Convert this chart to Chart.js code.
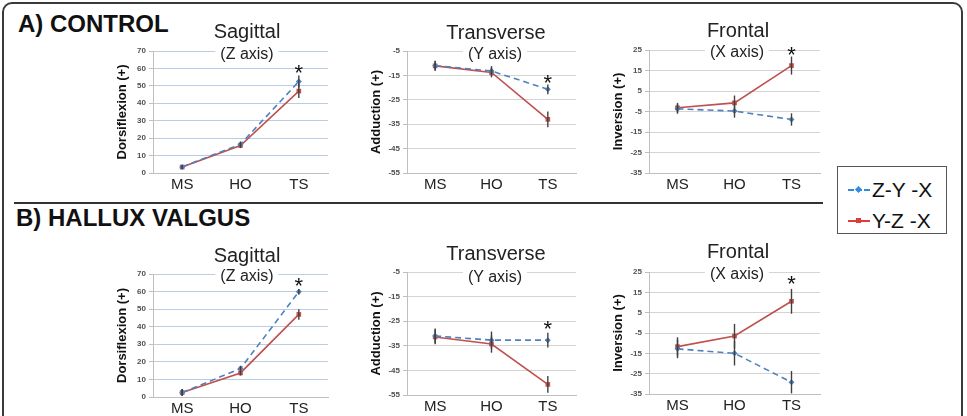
<!DOCTYPE html>
<html>
<head>
<meta charset="utf-8">
<script src="https://cdn.jsdelivr.net/npm/chart.js@4.4.1/dist/chart.umd.min.js"></script>
<style>
  html, body { margin: 0; padding: 0; background: #fff; }
  #page { position: relative; width: 967px; height: 416px; overflow: hidden; font-family: 'Liberation Sans', Arial, sans-serif; }
  #frame { position: absolute; left: 2px; top: 2px; width: 957px; height: 440px; border: 2px solid #3a3a3a; border-radius: 10px; }
  #divider { position: absolute; left: 14px; top: 202px; width: 809px; height: 0; border-top: 2px solid #333; }
  .section { position: absolute; font-weight: bold; font-size: 24px; color: #111; white-space: nowrap; line-height: 1; }
  .cv { position: absolute; }
  .ttl { position: absolute; transform: translateX(-50%); white-space: nowrap; color: #222; z-index: 2; line-height: 1; }
  .ttl.main { font-size: 20px; }
  .ttl.sub { font-size: 16px; background: #fff; padding: 0 5px; }
  #legend { position: absolute; left: 837px; top: 166px; width: 108px; height: 66px; border: 1px solid #555; background: #fff; }
  .lrow { position: absolute; left: 10px; font-size: 21px; color: #111; line-height: 1; white-space: nowrap; }
  .sample { display: inline-block; position: relative; width: 22px; height: 0; vertical-align: middle; margin-right: 2px; top: -1px; }
  .sample.blue { border-top: 2px dashed #2f8ae0; }
  .sample.red { border-top: 2px solid #e03a3a; }
  .sample i { position: absolute; left: 8px; top: -4px; width: 5px; height: 5px; }
  .sample.blue i { background: #2f8ae0; transform: rotate(45deg); }
  .sample.red i { background: #e03a3a; }
</style>
</head>
<body>
<div id="page">
  <div id="frame"></div>
  <div id="divider"></div>
  <div class="section" style="left:18px; top:12px;">A) CONTROL</div>
  <div class="section" style="left:16px; top:206px;">B) HALLUX VALGUS</div>
  <div id="legend">
    <div class="lrow" style="top:12px;"><span class="sample blue"><i></i></span>Z-Y -X</div>
    <div class="lrow" style="top:43px;"><span class="sample red"><i></i></span>Y-Z -X</div>
  </div>
</div>
<script>
// categories
var phases = ['MS', 'HO', 'TS'];
var seriesNames = ['Z-Y -X', 'Y-Z -X'];

// y-axis ranges (min, max, step)
var sagRange = [0, 70, 10];
var traRange = [-55, -5, 10];
var froRange = [-35, 25, 10];

// A) CONTROL
var ctrlSagZYX = [3.5, 16.5, 52.5];
var ctrlSagYZX = [3.4, 15.8, 47];
var ctrlSagErrZYX = [1, 1.5, 3.5];
var ctrlSagErrYZX = [1, 1.5, 4];
var ctrlSagStar = 60;

var ctrlTraZYX = [-11, -13.2, -20.7];
var ctrlTraYZX = [-11.1, -13.8, -33];
var ctrlTraErrZYX = [2, 2, 2];
var ctrlTraErrYZX = [2, 2, 3.2];
var ctrlTraStar = -16;

var ctrlFroZYX = [-3.7, -4.8, -8.9];
var ctrlFroYZX = [-3.2, -0.8, 17.4];
var ctrlFroErrZYX = [2.4, 3.2, 3];
var ctrlFroErrYZX = [2.4, 3.6, 4.4];
var ctrlFroStar = 25;

// B) HALLUX VALGUS
var hvSagZYX = [2.5, 16.2, 59.9];
var hvSagYZX = [2.5, 13.7, 47];
var hvSagErrZYX = [2, 1.5, 1.6];
var hvSagErrYZX = [2, 1.5, 3];
var hvSagStar = 66;

var hvTraZYX = [-31, -32.7, -32.7];
var hvTraYZX = [-31.4, -34.3, -50.7];
var hvTraErrZYX = [3, 3.5, 3];
var hvTraErrYZX = [3, 3.5, 3.4];
var hvTraStar = -26;

var hvFroZYX = [-12.8, -15, -29.2];
var hvFroYZX = [-11.7, -6.5, 10.6];
var hvFroErrZYX = [4.6, 6, 5.5];
var hvFroErrYZX = [4.6, 6, 6.1];
var hvFroStar = 21.6;

var AXIS_W = 38, PAD_TOP = 20, XAXIS_H = 22;

var errorBars = {
    id: 'errorBars',
    afterDatasetsDraw: function (chart) {
        var ctx = chart.ctx, x = chart.scales.x, y = chart.scales.y;
        ctx.save();
        ctx.strokeStyle = '#404040';
        ctx.lineWidth = 1.4;
        chart.data.datasets.forEach(function (ds) {
            if (!ds.errors) return;
            ds.data.forEach(function (v, i) {
                var px = x.getPixelForValue(i);
                ctx.beginPath();
                ctx.moveTo(px, y.getPixelForValue(v - ds.errors[i]));
                ctx.lineTo(px, y.getPixelForValue(v + ds.errors[i]));
                ctx.stroke();
            });
        });
        // asterisk above TS
        var star = chart.options.plugins.errorBars.star;
        if (star !== undefined) {
            ctx.fillStyle = '#111';
            ctx.font = '22px "Liberation Sans", Arial, sans-serif';
            ctx.textAlign = 'center';
            ctx.textBaseline = 'alphabetic';
            ctx.fillText('*', x.getPixelForValue(2), y.getPixelForValue(star) + 12);
        }
        ctx.restore();
    }
};

function makeChart(left, top, plotW, plotH, range, gridColor, yTitle, zyx, yzx, errZ, errY, star) {
    var canvas = document.createElement('canvas');
    var w = AXIS_W + plotW + 2, h = PAD_TOP + plotH + XAXIS_H;
    canvas.width = w; canvas.height = h;
    canvas.className = 'cv';
    canvas.style.left = (left - AXIS_W) + 'px';
    canvas.style.top = (top - PAD_TOP) + 'px';
    canvas.style.width = w + 'px';
    canvas.style.height = h + 'px';
    document.getElementById('page').appendChild(canvas);

    return new Chart(canvas.getContext('2d'), {
        type: 'line',
        data: {
            labels: phases,
            datasets: [
                {
                    label: seriesNames[0],
                    data: zyx,
                    errors: errZ,
                    borderColor: '#4f81bd',
                    backgroundColor: '#4f81bd',
                    borderWidth: 1.6,
                    borderDash: [6, 4],
                    pointStyle: 'rectRot',
                    pointRadius: 3,
                    pointBorderWidth: 0,
                    tension: 0
                },
                {
                    label: seriesNames[1],
                    data: yzx,
                    errors: errY,
                    borderColor: '#c0504d',
                    backgroundColor: '#c0504d',
                    borderWidth: 1.6,
                    pointStyle: 'rect',
                    pointRadius: 3.3,
                    pointBorderWidth: 0,
                    tension: 0
                }
            ]
        },
        options: {
            responsive: false,
            animation: false,
            layout: { padding: { top: PAD_TOP, right: 2, left: 0, bottom: 0 } },
            plugins: {
                legend: { display: false },
                tooltip: { enabled: false },
                errorBars: { star: star }
            },
            scales: {
                x: {
                    offset: true,
                    afterFit: function (s) { s.height = XAXIS_H; },
                    grid: { display: false, drawTicks: false },
                    border: { color: '#bfbfbf', width: 1 },
                    ticks: {
                        color: '#222',
                        padding: 3,
                        font: { family: '"Liberation Sans Narrow", "Liberation Sans", Arial, sans-serif', size: 15 }
                    }
                },
                y: {
                    min: range[0],
                    max: range[1],
                    afterFit: function (s) { s.width = AXIS_W; },
                    grid: { color: gridColor, lineWidth: 1, tickLength: 4, tickColor: '#bfbfbf' },
                    border: { color: '#bfbfbf', width: 1 },
                    ticks: {
                        stepSize: range[2],
                        color: '#505050',
                        padding: 3,
                        font: { family: '"Liberation Sans", Arial, sans-serif', size: 8, weight: 'bold' }
                    },
                    title: {
                        display: true,
                        text: yTitle,
                        color: '#111',
                        padding: 0,
                        font: { family: '"Liberation Sans Narrow", "Liberation Sans", Arial, sans-serif', size: 13, weight: 'bold' }
                    }
                }
            }
        },
        plugins: [errorBars]
    });
}

function addTitle(cx, top, text, cls) {
    var d = document.createElement('div');
    d.className = 'ttl ' + cls;
    d.style.left = cx + 'px';
    d.style.top = top + 'px';
    d.textContent = text;
    document.getElementById('page').appendChild(d);
}

var sagGrid = '#b9cde5', otherGrid = '#d4d4d4';

// row A
makeChart(153, 51, 177, 122, sagRange, sagGrid, 'Dorsiflexion (+)', ctrlSagZYX, ctrlSagYZX, ctrlSagErrZYX, ctrlSagErrYZX, ctrlSagStar);
makeChart(407, 51, 171, 122, traRange, otherGrid, 'Adduction (+)', ctrlTraZYX, ctrlTraYZX, ctrlTraErrZYX, ctrlTraErrYZX, ctrlTraStar);
makeChart(649, 50, 173, 123, froRange, otherGrid, 'Inversion (+)', ctrlFroZYX, ctrlFroYZX, ctrlFroErrZYX, ctrlFroErrYZX, ctrlFroStar);
// row B
makeChart(153, 274, 177, 123, sagRange, sagGrid, 'Dorsiflexion (+)', hvSagZYX, hvSagYZX, hvSagErrZYX, hvSagErrYZX, hvSagStar);
makeChart(407, 272, 171, 123, traRange, otherGrid, 'Adduction (+)', hvTraZYX, hvTraYZX, hvTraErrZYX, hvTraErrYZX, hvTraStar);
makeChart(649, 272, 173, 122, froRange, otherGrid, 'Inversion (+)', hvFroZYX, hvFroYZX, hvFroErrZYX, hvFroErrYZX, hvFroStar);

// chart titles
addTitle(247, 21, 'Sagittal', 'main');
addTitle(247, 46, '(Z axis)', 'sub');
addTitle(496, 22, 'Transverse', 'main');
addTitle(495, 46, '(Y axis)', 'sub');
addTitle(738, 20, 'Frontal', 'main');
addTitle(737, 44, '(X axis)', 'sub');

addTitle(247, 245, 'Sagittal', 'main');
addTitle(247, 268, '(Z axis)', 'sub');
addTitle(496, 243, 'Transverse', 'main');
addTitle(495, 269, '(Y axis)', 'sub');
addTitle(738, 241, 'Frontal', 'main');
addTitle(737, 266, '(X axis)', 'sub');
</script>
</body>
</html>
